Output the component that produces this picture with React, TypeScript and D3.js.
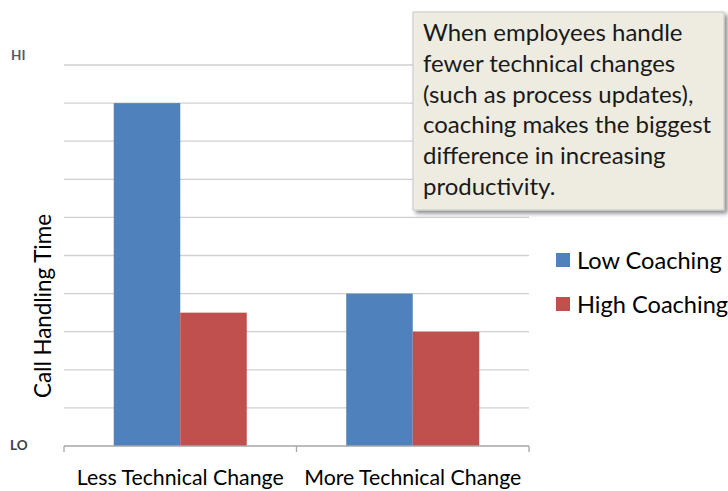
import React from "react";
import * as d3 from "d3";

const categories = ["Less Technical Change", "More Technical Change"];
const seriesNames = ["Low Coaching", "High Coaching"];
const lowCoaching = [9, 4];
const highCoaching = [3.5, 3];
const yTicks = [0, 1, 2, 3, 4, 5, 6, 7, 8, 9, 10];
const annotationLines = [
  "When employees handle",
  "fewer technical changes",
  "(such as process updates),",
  "coaching makes the biggest",
  "difference in increasing",
  "productivity.",
];
const colors = ["#4f81bd", "#c0504d"];

const W = 728;
const H = 491;
const left = 64;
const right = 529;
const top = 65;
const bottom = 446;
const FONT = "Lato, 'Open Sans', sans-serif";

export default function App() {
  const x0 = d3.scaleBand<string>().domain(categories).range([left, right]).padding(0);
  const x1 = d3
    .scaleBand<string>()
    .domain(seriesNames)
    .range([0, x0.bandwidth()])
    .paddingInner(0)
    .paddingOuter(0.748);
  const y = d3.scaleLinear().domain([0, 10]).range([bottom, top]);
  const values = [lowCoaching, highCoaching];

  return (
    <svg
      width={W}
      height={H}
      style={{ position: "absolute", left: 0, top: 0, background: "#fff" }}
      fontFamily={FONT}
    >
      <defs>
        <filter id="shadow" x="-10%" y="-10%" width="130%" height="130%">
          <feDropShadow dx="3" dy="3" stdDeviation="2" floodColor="#000" floodOpacity="0.45" />
        </filter>
      </defs>
      {/* gridlines */}
      {yTicks.slice(1).map((t) => (
        <line key={t} x1={left} x2={right} y1={y(t)} y2={y(t)} stroke="#d0d0d0" strokeWidth={1.3} />
      ))}
      {/* bars */}
      {categories.map((c, ci) =>
        seriesNames.map((s, si) => (
          <rect
            key={c + s}
            x={(x0(c) ?? 0) + (x1(s) ?? 0)}
            y={y(values[si][ci])}
            width={x1.bandwidth()}
            height={bottom - y(values[si][ci])}
            fill={colors[si]}
          />
        ))
      )}
      {/* x axis */}
      <line x1={left} x2={right} y1={bottom} y2={bottom} stroke="#a6a6a6" strokeWidth={1.3} />
      {[...categories.map((c) => x0(c) ?? 0), right].map((xx, i) => (
        <line key={i} x1={xx} x2={xx} y1={bottom} y2={bottom + 6} stroke="#a6a6a6" strokeWidth={1.3} />
      ))}
      {categories.map((c) => (
        <text
          key={c}
          x={(x0(c) ?? 0) + x0.bandwidth() / 2}
          y={485}
          textAnchor="middle"
          fontSize={21.3}
          fill="#000"
        >
          {c}
        </text>
      ))}
      {/* HI / LO */}
      <text x={11} y={60} fontSize={13.5} fontWeight="bold" fill="#595959">HI</text>
      <text x={10} y={450} fontSize={13.5} fontWeight="bold" fill="#404040">LO</text>
      {/* y title */}
      <text
        transform={`translate(51,${306}) rotate(-90)`}
        textAnchor="middle"
        fontSize={22.4}
        fill="#000"
      >
        Call Handling Time
      </text>
      {/* legend */}
      {seriesNames.map((s, i) => (
        <g key={s} transform={`translate(556,${253 + i * 44})`}>
          <rect x={0} y={0} width={14} height={14} fill={colors[i]} />
          <text x={21} y={15.5} fontSize={23.6} fill="#000">{s}</text>
        </g>
      ))}
      {/* annotation */}
      <rect x={413} y={12} width={311} height={198} fill="#eeece1" stroke="#c8c8c8" strokeWidth={1} filter="url(#shadow)" />
      {annotationLines.map((l, i) => (
        <text key={i} x={423} y={41 + i * 30.8} fontSize={24} fill="#1a1a1a">
          {l}
        </text>
      ))}
    </svg>
  );
}
